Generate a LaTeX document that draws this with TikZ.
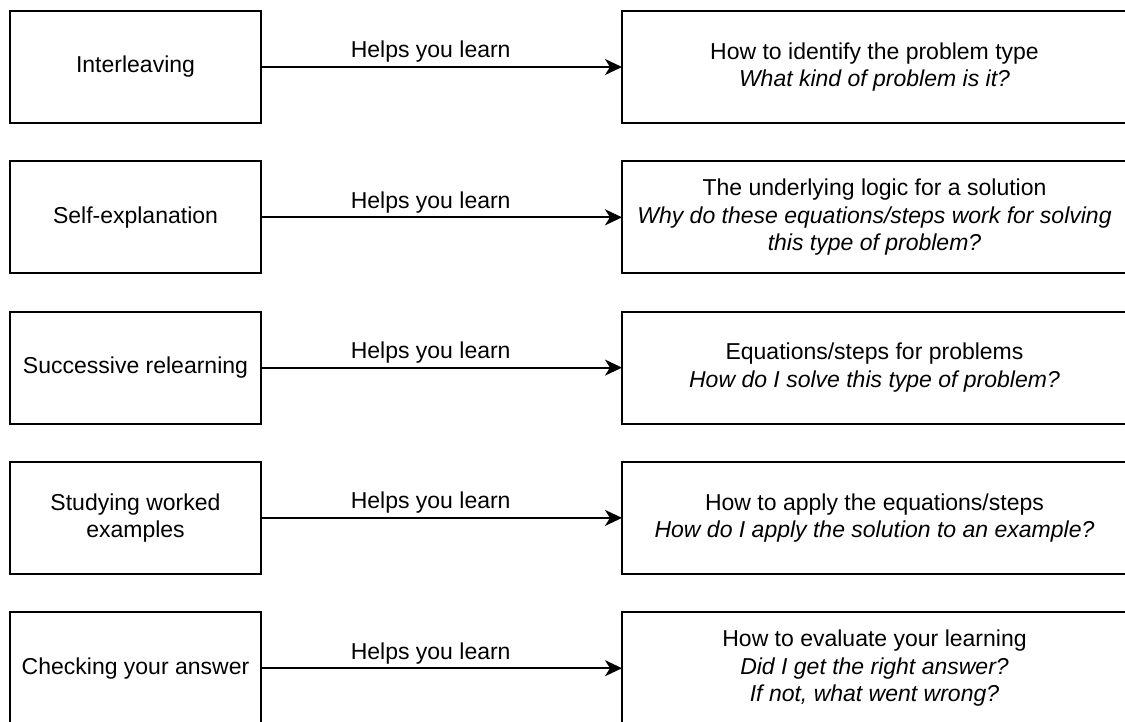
\documentclass[tikz,border=0pt]{standalone}
\usepackage{fontspec}
\setmainfont{Liberation Sans}
\usetikzlibrary{arrows.meta,positioning}

\begin{document}
\begin{tikzpicture}[->, >={Stealth[length=17pt,width=16pt,inset=5pt]}, auto, line width=2pt,
  node distance=38.3pt and 361pt, font=\fontsize{23pt}{27.5pt}\selectfont]
\tikzstyle{method}=[draw=black,fill=white,outer sep=0pt,minimum width=251pt,minimum height=112pt,align=center,inner sep=4pt]
\tikzstyle{outcome}=[method,minimum width=505pt]

\useasboundingbox (0,0) rectangle (1125pt,-721pt);

\node[method]  (M1) at (135.5pt,-67pt) {Interleaving};
\node[method]  (M2)[below=of M1]   {Self-explanation};
\node[method]  (M3)[below=of M2]   {Successive relearning};
\node[method]  (M4)[below=of M3]   {Studying worked\\ examples};
\node[method]  (M5)[below=of M4]   {Checking your answer};

\node[outcome] (O1)[right=of M1]   {How to identify the problem type\\ \textit{What kind of problem is it?}};
\node[outcome] (O2)[right=of M2]   {The underlying logic for a solution\\ \textit{Why do these equations/steps work for solving}\\ \textit{this type of problem?}};
\node[outcome] (O3)[right=of M3]   {Equations/steps for problems\\ \textit{How do I solve this type of problem?}};
\node[outcome] (O4)[right=of M4]   {How to apply the equations/steps\\ \textit{How do I apply the solution to an example?}};
\node[outcome] (O5)[right=of M5]   {How to evaluate your learning\\ \textit{Did I get the right answer?}\\ \textit{If not, what went wrong?}};

\path (M1) edge node[pos=0.47] {Helps you learn} (O1);
\path (M2) edge node[pos=0.47] {Helps you learn} (O2);
\path (M3) edge node[pos=0.47] {Helps you learn} (O3);
\path (M4) edge node[pos=0.47] {Helps you learn} (O4);
\path (M5) edge node[pos=0.47] {Helps you learn} (O5);

\end{tikzpicture}
\end{document}
